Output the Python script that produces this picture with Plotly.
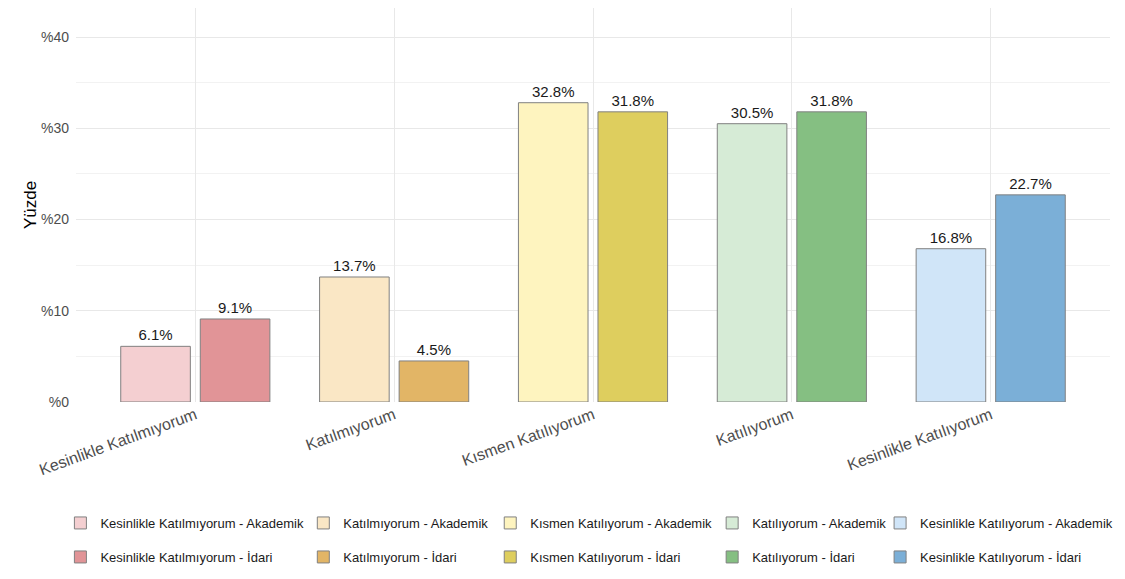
import plotly.graph_objects as go

# Veriler
kategoriler = ["Kesinlikle Katılmıyorum", "Katılmıyorum", "Kısmen Katılıyorum",
               "Katılıyorum", "Kesinlikle Katılıyorum"]
akademik = [6.1, 13.7, 32.8, 30.5, 16.8]
idari = [9.1, 4.5, 31.8, 31.8, 22.7]

renk_akademik = ["#F4CFD1", "#FAE7C5", "#FEF4BF", "#D6EBD6", "#D0E5F8"]
renk_idari = ["#E19497", "#E2B566", "#DECE5E", "#85BF82", "#7BAFD7"]

y_ticks = [0, 10, 20, 30, 40]
y_tick_text = ["%0", "%10", "%20", "%30", "%40"]

FONT = "Liberation Sans, Arial, sans-serif"

# sayfa gövdesinin 8px kenar boşluğu yüzünden figür biraz küçük
W, H = 1117, 571
L, R, T, B = 67.6, 15, 0, 177
# legend yerleri (figür pikseli)
col_px = [52, 295, 482, 704, 872]
row_px = [515, 549]


def px_to_paper_x(px):
    return (px - L) / (W - L - R)


def px_to_paper_y(py):
    return (H - B - py) / (H - T - B)


fig = go.Figure()

legend_layouts = {}
n = 0
for satir, (grup, degerler, renkler, ofset) in enumerate([
        ("Akademik", akademik, renk_akademik, -0.375),
        ("İdari", idari, renk_idari, 0.025)]):
    for i, kat in enumerate(kategoriler):
        n += 1
        lg = "legend" if n == 1 else f"legend{n}"
        fig.add_trace(go.Bar(
            x=[kat], y=[degerler[i]],
            name=f"{kat} - {grup}",
            offset=ofset, width=0.35,
            marker=dict(color=renkler[i], line=dict(color="#808080", width=1)),
            text=[f"{degerler[i]}%"], textposition="outside",
            textfont=dict(size=15, color="#1a1a1a", family=FONT),
            cliponaxis=False,
            legend=lg,
        ))
        legend_layouts[lg] = dict(
            x=px_to_paper_x(col_px[i]), y=px_to_paper_y(row_px[satir]),
            xanchor="left", yanchor="middle", orientation="h",
            bgcolor="rgba(0,0,0,0)", borderwidth=0,
            font=dict(size=13, color="#1a1a1a", family=FONT),
        )

fig.update_layout(
    width=W, height=H,
    margin=dict(l=L, r=R, t=T, b=B, autoexpand=False),
    barmode="overlay",
    plot_bgcolor="white", paper_bgcolor="white",
    font=dict(family=FONT),
    xaxis=dict(
        categoryorder="array", categoryarray=kategoriler,
        range=[-0.6, 4.6], tickangle=-20, automargin=False,
        tickfont=dict(size=16, color="#4d4d4d"),
        showgrid=True, gridcolor="#e8e8e8", gridwidth=1.3,
        zeroline=False, showline=False, ticks="",
    ),
    yaxis=dict(
        range=[0, 43.18], tickvals=y_ticks, ticktext=y_tick_text, automargin=False,
        tickfont=dict(size=14, color="#4d4d4d"), ticklabelstandoff=6,
        title=dict(text="Yüzde", font=dict(size=17, color="#000000"), standoff=0),
        showgrid=True, gridcolor="#e8e8e8", gridwidth=1.3,
        minor=dict(dtick=5, showgrid=True, gridcolor="#f2f2f2", gridwidth=0.8),
        zeroline=False, showline=False, ticks="",
    ),
    showlegend=True,
    **legend_layouts,
)

fig.write_html("out.html")
